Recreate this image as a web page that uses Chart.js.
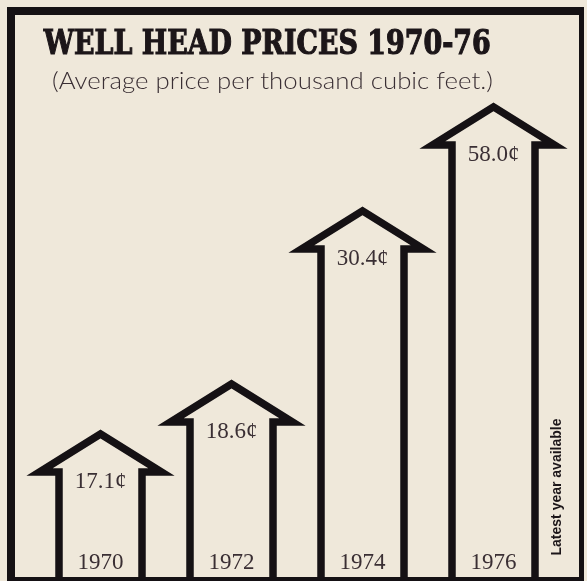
<!DOCTYPE html>
<html>
<head>
<meta charset="utf-8">
<title>Well head prices 1970-76</title>
<script src="https://cdn.jsdelivr.net/npm/chart.js@4.4.0/dist/chart.umd.min.js"></script>
<style>
    html, body { margin: 0; padding: 0; background: #efe8da; }
    #wrap { position: relative; width: 587px; height: 581px; overflow: hidden; background: #efe8da; }
    #chart { position: absolute; left: 0; top: 0; }
    #frame {
        position: absolute; left: 7px; top: 7px; width: 577px; height: 574px;
        box-sizing: border-box; border: solid #151114; border-width: 8px 5px 4px 8px;
        pointer-events: none;
    }
    .head { position: absolute; width: 800px; white-space: nowrap; text-align: center; color: #1c1619; }
    .head span { display: inline-block; transform-origin: 50% 50%; }
    #title {
        top: 24px; left: -133px;   /* centred on x = 267 */
        font: bold 34px "DejaVu Serif", serif; line-height: 36px;
        -webkit-text-stroke: 1.2px #1c1619;
    }
    #subtitle {
        top: 66px; left: -128px;   /* centred on x = 272 */
        font: 300 23px Lato, "Noto Sans", sans-serif; line-height: 28px; color: #3a2f34;
    }
    #note {
        position: absolute; left: 556px; top: 487px; white-space: nowrap;
        font: bold 14px "Liberation Sans", Arial, sans-serif; color: #1c1619;
        transform: translate(-50%, -50%) rotate(-90deg);
    }
</style>
</head>
<body>
<div id="wrap">
    <canvas id="chart" width="587" height="581"></canvas>
    <div id="title" class="head"><span>WELL HEAD PRICES 1970-76</span></div>
    <div id="subtitle" class="head"><span>(Average price per thousand cubic feet.)</span></div>
    <div id="note">Latest year available</div>
    <div id="frame"></div>
</div>
<script>
// Data
const years = ['1970', '1972', '1974', '1976'];
const prices = [17.1, 18.6, 30.4, 58.0];          // cents per thousand cubic feet
// The artwork is not drawn to scale: arrow tips as drawn, in % of the frame height
const drawnHeights = [25.3, 33.9, 63.7, 81.6];

// Stretch the headings to the width they take in the print
function fitText(id, target) {
    const span = document.querySelector('#' + id + ' span');
    const w = span.getBoundingClientRect().width;
    span.style.transform = 'scaleX(' + (target / w) + ')';
}

// Arrow shapes + labels, drawn on top of the (invisible) bars
const arrowPlugin = {
    id: 'arrows',
    afterDatasetsDraw(chart) {
        const ctx = chart.ctx;
        const meta = chart.getDatasetMeta(0);
        const headHalf = 61, headH = 38;
        meta.data.forEach((bar, i) => {
            const x = bar.x, tip = bar.y, base = bar.base + 10;
            const half = bar.width / 2;
            ctx.save();
            ctx.strokeStyle = '#151114';
            ctx.lineWidth = 7.5;
            ctx.lineJoin = 'miter';
            ctx.miterLimit = 10;
            ctx.beginPath();
            ctx.moveTo(x - half, base);
            ctx.lineTo(x - half, tip + headH);
            ctx.lineTo(x - headHalf, tip + headH);
            ctx.lineTo(x, tip);
            ctx.lineTo(x + headHalf, tip + headH);
            ctx.lineTo(x + half, tip + headH);
            ctx.lineTo(x + half, base);
            ctx.stroke();

            ctx.fillStyle = '#3a2f34';
            ctx.font = '23px "Liberation Serif", serif';
            ctx.textAlign = 'center';
            ctx.textBaseline = 'middle';
            ctx.fillText(prices[i].toFixed(1) + '¢', x, tip + headH + 10);
            ctx.fillText(years[i], x, 563);
            ctx.restore();
        });
    }
};

function draw() {
    fitText('title', 447);
    fitText('subtitle', 441);

    new Chart(document.getElementById('chart'), {
        type: 'bar',
        data: {
            labels: years,
            datasets: [{
                label: 'Well head price',
                data: drawnHeights,
                backgroundColor: 'transparent',
                borderWidth: 0,
                barThickness: 83
            }]
        },
        options: {
            responsive: false,
            animation: false,
            layout: { padding: { left: 35, right: 28, top: 0, bottom: 0 } },
            plugins: {
                legend: { display: false },
                tooltip: { enabled: false }
            },
            scales: {
                x: { display: false },
                y: { display: false, min: 0, max: 100 }
            }
        },
        plugins: [arrowPlugin]
    });
}

if (document.fonts && document.fonts.ready) {
    document.fonts.ready.then(draw);
} else {
    draw();
}
</script>
</body>
</html>
